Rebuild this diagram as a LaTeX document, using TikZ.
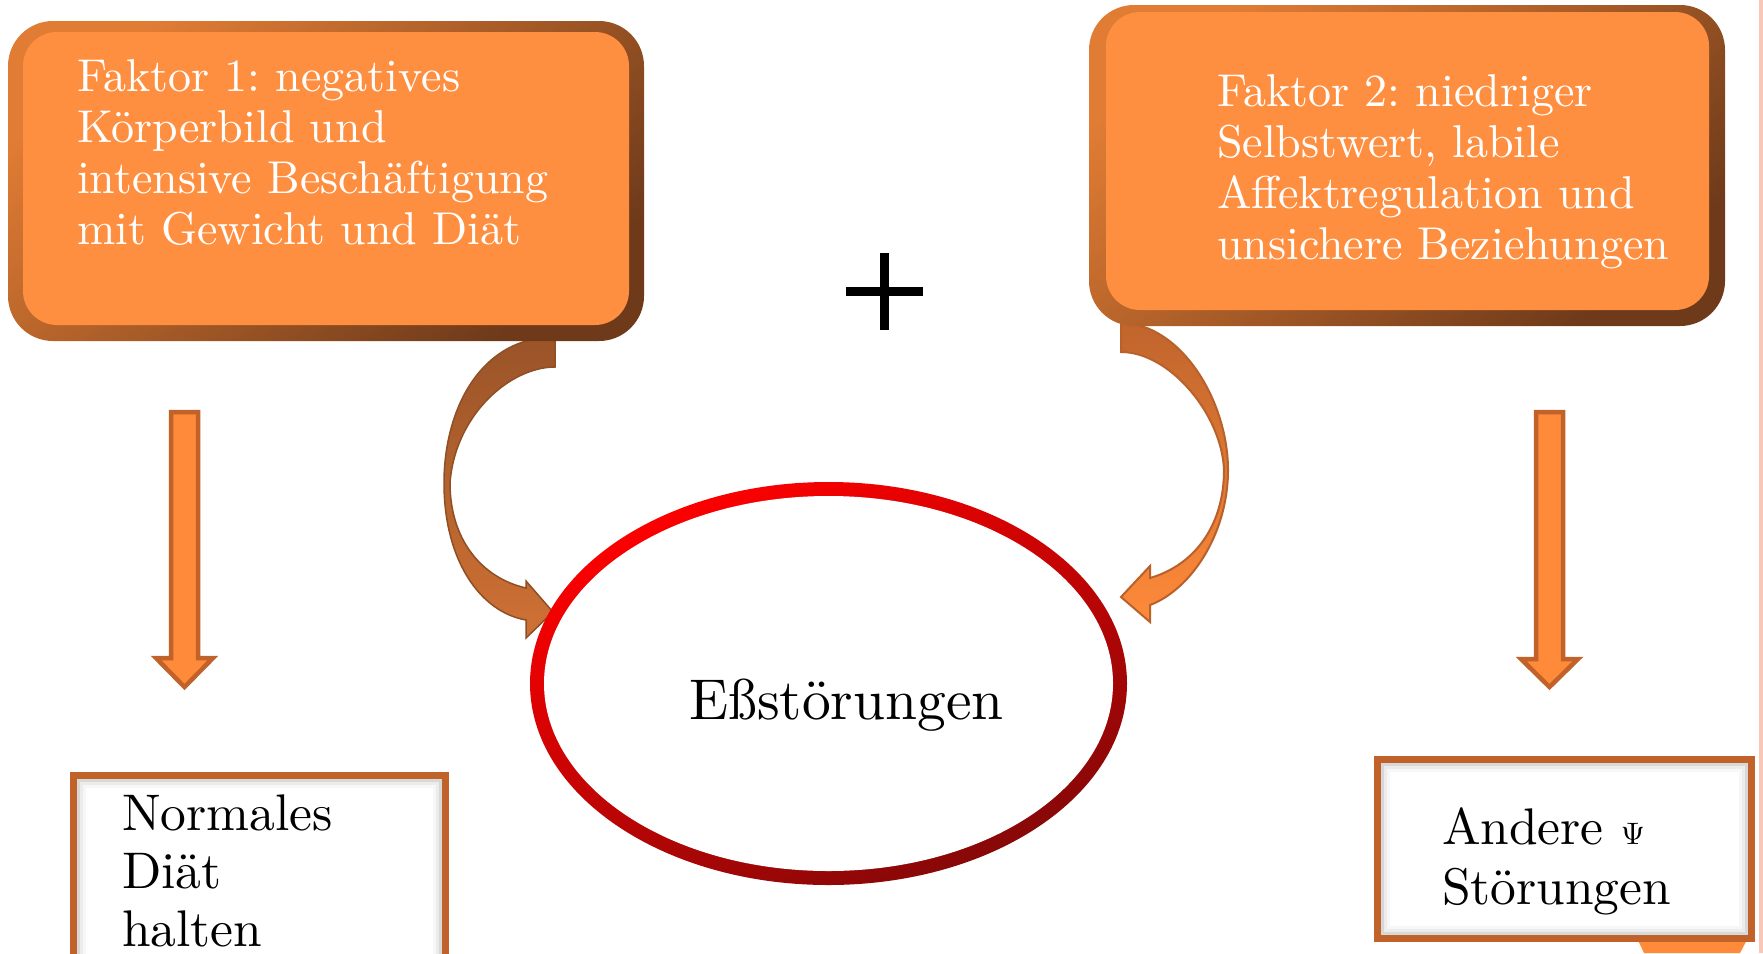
\documentclass[tikz,border=0pt]{standalone}
\usepackage{fontspec}
\setmainfont{lmroman10-regular}[Extension=.otf]
\usetikzlibrary{shapes.geometric}
\frenchspacing
\definecolor{face}{HTML}{FF8F40}
\definecolor{rimlight}{HTML}{E07C34}
\definecolor{rimdark}{HTML}{6E3A1A}
\definecolor{brd}{HTML}{C0622A}
\definecolor{arrfill}{HTML}{FF8A3A}
\definecolor{ringdark}{HTML}{850808}
\definecolor{pinkline}{HTML}{F9C7B7}
\definecolor{lcurveA}{HTML}{9A5428}
\definecolor{lcurveB}{HTML}{CF7135}
\definecolor{lcurveline}{HTML}{8F4F25}
\definecolor{rcurveA}{HTML}{C0652D}
\definecolor{rcurveB}{HTML}{FF8A3A}
\definecolor{rcurveline}{HTML}{B8612B}
\begin{document}
\begin{tikzpicture}[x=1pt,y=-1pt,
  rimbox/.style={rectangle,inner sep=0,outer sep=0,anchor=north west,rounded corners=45pt,
    top color=rimlight,bottom color=rimdark,shading angle=40},
  facebox/.style={rectangle,inner sep=0,outer sep=0,anchor=north west,rounded corners=34pt,fill=face},
  wtext/.style={text=white,align=left,inner sep=0,outer sep=0,anchor=north west,
    font=\fontsize{46}{51}\selectfont\frenchspacing},
  btext/.style={text=black,align=left,inner sep=0,outer sep=0,anchor=north west},
  outbox/.style={rectangle,draw=brd,line width=7pt,fill=white,inner sep=0,outer sep=0,anchor=north west},
  blockarrow/.style={fill=arrfill,draw=brd,line width=4.5pt,line join=miter},
  lcurve/.style={top color=lcurveA,bottom color=lcurveB,draw=lcurveline,line width=1.5pt},
  rcurve/.style={top color=rcurveA,bottom color=rcurveB,draw=rcurveline,line width=2pt},
  plusbar/.style={line width=9pt,draw=black}
]
\useasboundingbox (0,0) rectangle (1763,953);
\fill[white] (0,0) rectangle (1763,953);
\fill[pinkline] (1759,0) rectangle (1763,953);

% curved arrows (behind the boxes)
\path[lcurve] (555,337) .. controls (480,337) and (444,410) .. (444,483)
  .. controls (444,560) and (480,612) .. (526,620) -- (526,638) -- (553,612) -- (526,581) -- (526,588)
  .. controls (482,578) and (450,540) .. (450,483)
  .. controls (455,415) and (510,367) .. (555,367) -- cycle;
\path[rcurve] (1121,323) .. controls (1180,323) and (1228,400) .. (1228,470)
  .. controls (1228,535) and (1190,590) .. (1150,605) -- (1150,622) -- (1121,597) -- (1150,566) -- (1150,578)
  .. controls (1195,565) and (1224,525) .. (1224,470)
  .. controls (1222,415) and (1170,352) .. (1121,352) -- cycle;

% Factor boxes
\node[rimbox,minimum width=636pt,minimum height=320pt] (f1rim) at (8,21) {};
\node[facebox,minimum width=606pt,minimum height=293pt] (f1face) at (23,32) {};
\node[wtext] (f1text) at (77,59.8)
  {Faktor 1: negatives\\Körperbild und\\intensive Beschäftigung\\mit Gewicht und Diät};

\node[rimbox,minimum width=636pt,minimum height=321pt] (f2rim) at (1089,5) {};
\node[facebox,minimum width=603pt,minimum height=298pt] (f2face) at (1106,12) {};
\node[wtext] (f2text) at (1217,74.8)
  {Faktor 2: niedriger\\Selbstwert, labile\\Affektregulation und\\unsichere Beziehungen};

% plus
\coordinate (plus) at (884.5,291.5);
\draw[plusbar] (plus) ++(-38.5,0) -- ++(77,0);
\draw[plusbar] (plus) ++(0,-38.5) -- ++(0,77);

% straight down arrows
\path[blockarrow] (171,412) -- (198,412) -- (198,658) -- (213,658) -- (184.5,687) -- (156,658) -- (171,658) -- cycle;
\path[blockarrow] (1536,412) -- (1563,412) -- (1563,659) -- (1578,659) -- (1549.5,687) -- (1521,659) -- (1536,659) -- cycle;

% ellipse
\node[ellipse,inner sep=0,outer sep=0,minimum width=597pt,minimum height=403pt,
  top color=red,bottom color=ringdark,shading angle=25] (ering) at (828.5,683.5) {};
\node[ellipse,inner sep=0,outer sep=0,minimum width=569pt,minimum height=375pt,fill=white] (eface) at (828.5,683.5) {};
\node[inner sep=0,anchor=base,font=\fontsize{57.5}{69}\selectfont] (etext) at (846.5,719) {Eßstörungen};

% bottom-right orange piece
\fill[arrfill] (1636,936) -- (1749,936) -- (1740,953) -- (1644,953) -- cycle;

% outcome boxes
\node[outbox,minimum width=372pt,minimum height=200pt] (nbox) at (73.5,775.5) {};
\foreach \i/\o in {1.5/0.30,4.5/0.15,7.5/0.06}
  \draw[gray,line width=3pt,opacity=\o] (77+\i,779+\i) rectangle (442-\i,990);
\node[btext,font=\fontsize{51.5}{58}\selectfont] (ntext) at (122,795) {Normales\\Diät\\halten};

\node[outbox,minimum width=374pt,minimum height=179pt] (abox) at (1377.5,759.5) {};
\foreach \i/\o in {1.5/0.30,4.5/0.15,7.5/0.06}
  \draw[gray,line width=3pt,opacity=\o] (1381+\i,763+\i) rectangle (1748-\i,935-\i);
\node[btext,font=\fontsize{51.5}{60}\selectfont] (atext) at (1442,808)
  {Andere {\fontsize{31}{31}\selectfont Ψ}\\Störungen};
\end{tikzpicture}
\end{document}
